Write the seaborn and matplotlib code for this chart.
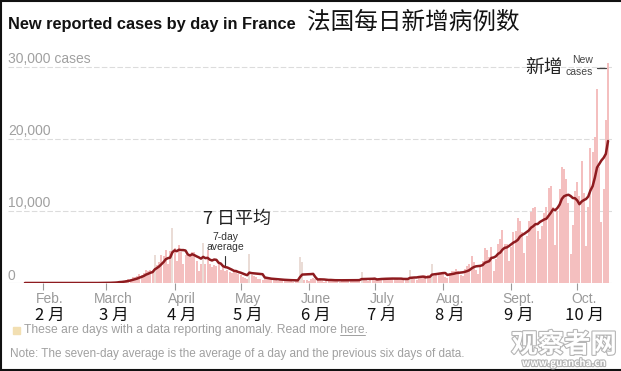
import numpy as np
import pandas as pd
import matplotlib
matplotlib.use('Agg')
from matplotlib import pyplot as plt
from matplotlib import patheffects
from matplotlib.lines import Line2D
import seaborn as sns

# daily new cases (Jan 24 - Oct 15, 2020)
jan = [2, 1, 0, 0, 0, 1, 0, 2]
feb = [0, 0, 0, 0, 0, 0, 0, 5, 0, 1, 0, 0, 0, 0, 1, 0, 0, 0, 0, 0, 0, 0, 0, 0,
       2, 4, 20, 20, 19]
mar = [43, 30, 61, 73, 138, 190, 336, 177, 286, 372, 497, 595, 785, 838, 924,
       1210, 1097, 1404, 1861, 1617, 1847, 1559, 3838, 2446, 2931, 3922, 3809,
       4611, 2599, 4376, 7578]
apr = [4861, 3100, 5233, 4267, 2600, 3912, 3777, 3881, 4286, 4342, 3114, 1613,
       2673, 5497, 2633, 4607, 2641, 2200, 2569, 2383, 2667, 1827, 2183, 1653,
       1773, 1537, 1358, 1500, 1600, 1200]
may = [1100, 900, 700, 600, 4000, 1100, 1000, 900, 600, 500, 450, 800, 700, 600,
       550, 400, 350, 300, 500, 550, 450, 400, 300, 250, 200, 450, 500, 3600,
       2900, 400, 350]
jun = [300, 600, 700, 500, 600, 500, 300, 200, 400, 450, 500, 450, 400, 250, 200,
       400, 450, 500, 450, 400, 300, 250, 400, 500, 1500, 500, 400, 300, 350, 550]
jul = [650, 700, 750, 600, 450, 400, 650, 700, 750, 700, 600, 450, 400, 350, 650,
       750, 1800, 800, 600, 450, 750, 900, 950, 1050, 1100, 800, 2600, 1000, 1200,
       1300, 1400]
aug = [1350, 900, 700, 1400, 1600, 1700, 2000, 1600, 1100, 1000, 1900, 2300, 2600,
       3700, 2900, 1800, 1200, 2200, 3000, 4800, 4600, 3600, 5000, 1600, 3300,
       5400, 6100, 7400, 5400, 5400, 3000]
sep = [4982, 7017, 7157, 8975, 8550, 7071, 4203, 6544, 8577, 9843, 10400, 10561,
       7183, 6158, 7852, 9784, 10593, 13215, 13498, 10569, 5298, 10008, 13072,
       16096, 15797, 14412, 11123, 4070, 8051, 12845]
octo = [13970, 12148, 16972, 12565, 5084, 10489, 18746, 18129, 20339, 26896,
        16101, 8505, 12993, 22591, 30621]

anomaly_days = ['2020-03-23', '2020-03-31', '2020-04-14', '2020-05-05',
                '2020-05-28', '2020-05-29', '2020-06-25', '2020-07-17', '2020-07-27']

month_en = ['Feb.', 'March', 'April', 'May', 'June', 'July', 'Aug.', 'Sept.', 'Oct.']
month_zh = ['2 月', '3 月', '4 月', '5 月', '6 月', '7 月', '8 月', '9 月', '10 月']
month_starts = ['2020-02-01', '2020-03-01', '2020-04-01', '2020-05-01', '2020-06-01',
                '2020-07-01', '2020-08-01', '2020-09-01', '2020-10-01']
y_grid = [10000, 20000, 30000]
y_labels = ['10,000', '20,000', '30,000 cases']

cases = jan + feb + mar + apr + may + jun + jul + aug + sep + octo
dates = pd.date_range('2020-01-24', periods=len(cases), freq='D')
start = dates[0]
df = pd.DataFrame({'date': dates, 'cases': cases})
df['day'] = (df['date'] - start).dt.days
df['kind'] = np.where(df['date'].isin(pd.to_datetime(anomaly_days)), 'anomaly', 'normal')
df['avg'] = df['cases'].rolling(7, min_periods=1).mean()

sns.set_theme(style='white')
plt.rcParams['font.family'] = ['Liberation Sans', 'Noto Sans CJK SC', 'DejaVu Sans']

fig = plt.figure(figsize=(6.21, 3.71), dpi=100)
ax = fig.add_axes([8 / 621, 0.2372, 604 / 621, 0.6016])

# grid lines
for g in y_grid:
    ax.axhline(g, color='#dcdcdc', lw=0.8, ls=(0, (5, 2)), zorder=0)
ax.axhline(0, color='#cfcfcf', lw=0.8, zorder=0)

sns.barplot(data=df, x='day', y='cases', hue='kind',
            palette={'normal': '#f4bfbf', 'anomaly': '#eadcd6'},
            native_scale=True, dodge=False, width=0.88, errorbar=None,
            legend=False, saturation=1, linewidth=0, ax=ax)
sns.lineplot(x=df['day'], y=df['avg'], color='#8e1b1f', lw=1.8, ax=ax, zorder=5)

ax.set_xlim(-7.7, len(cases) + 0.8)
ax.set_ylim(0, 31000)
for s in ax.spines.values():
    s.set_visible(False)
ax.set_xlabel('')
ax.set_ylabel('')
ax.set_yticks([])

tick_days = [(pd.Timestamp(m) - start).days for m in month_starts]
ax.set_xticks(tick_days)
ax.set_xticklabels([])
ax.tick_params(axis='x', bottom=True, length=5, width=0.8, color='#9a9a9a', pad=0)

# y labels sitting above gridlines
ytr = ax.get_yaxis_transform()
for g, lab in zip(y_grid, y_labels):
    ax.text(0, g + 1100, lab, transform=ytr, ha='left', va='center',
            fontsize=10, color='#a0a0a0')
ax.text(0, 1000, '0', transform=ytr, ha='left', va='center', fontsize=10, color='#a0a0a0')

# month labels, english + chinese
xtr = ax.get_xaxis_transform()
for d, en, zh in zip(tick_days, month_en, month_zh):
    ax.text(d + 3.3, -0.07, en, transform=xtr, ha='center', va='center',
            fontsize=10, color='#9a9a9a')
    ax.text(d + 3.3, -0.145, zh, transform=xtr, ha='center', va='center',
            fontsize=12, color='#111111', family=['Noto Sans CJK SC', 'DejaVu Sans'])

# 7-day average annotation
d_avg = (pd.Timestamp('2020-04-24') - start).days
ax.text(d_avg + 5.5, 8900, '7 日平均', ha='center', va='center', fontsize=13,
        color='#222222', family=['Noto Sans CJK SC', 'DejaVu Sans'])
ax.text(d_avg, 5700, '7-day\naverage', ha='center', va='center', fontsize=7.5,
        color='#333333', linespacing=1.0)
ax.plot([d_avg, d_avg], [2300, 3700], color='#333333', lw=0.8)

# new cases annotation
d_last = len(cases) - 1
ax.text(d_last - 29, 30000, '新增', ha='center', va='center', fontsize=13.5,
        color='#222222', family=['Noto Sans CJK SC', 'DejaVu Sans'])
ax.text(d_last - 11.5, 31000, 'New', ha='center', va='center', fontsize=7.5,
        color='#444444', clip_on=False)
ax.text(d_last - 13, 29300, 'cases', ha='center', va='center', fontsize=7.5,
        color='#444444', clip_on=False)
ax.plot([d_last - 5, d_last - 1], [29800, 29800], color='#444444', lw=0.9)

# titles
fig.text(8 / 621, 1 - 24 / 371, 'New reported cases by day in France', ha='left',
         va='center', fontsize=11.8, fontweight='bold', color='#121212')
fig.text(307 / 621, 1 - 22 / 371, '法国每日新增病例数', ha='left', va='center',
         fontsize=17, color='#121212', family=['Noto Sans CJK SC', 'DejaVu Sans'])

# legend row and note
fig.patches.append(plt.Rectangle((13 / 621, 1 - 334 / 371), 7 / 621, 7 / 371,
                                 transform=fig.transFigure, color='#f2dfb2'))
leg = fig.text(24 / 621, 1 - 330 / 371,
               'These are days with a data reporting anomaly. Read more here.',
               ha='left', va='center', fontsize=8.7, color='#a0a0a0')
fig.text(10 / 621, 1 - 354 / 371,
         'Note: The seven-day average is the average of a day and the previous six days of data.',
         ha='left', va='center', fontsize=8.5, color='#a0a0a0')

fig.canvas.draw()
r = fig.canvas.get_renderer()
bb = leg.get_window_extent(r)
tmp1 = fig.text(0, 0, 'here.', fontsize=8.7)
tmp2 = fig.text(0, 0, '.', fontsize=8.7)
w1 = tmp1.get_window_extent(r).width
w2 = tmp2.get_window_extent(r).width
tmp1.remove()
tmp2.remove()
ux0 = (bb.x1 - w1) / fig.bbox.width
ux1 = (bb.x1 - w2) / fig.bbox.width
uy = (bb.y0 + 1) / fig.bbox.height
fig.add_artist(Line2D([ux0, ux1], [uy, uy], transform=fig.transFigure,
                      color='#a0a0a0', lw=0.7))

# watermark
for txt, yy, fs in [('观察者网', 345, 19), ('www.guancha.cn', 363, 7)]:
    fig.text(564 / 621, 1 - yy / 371, txt, ha='center', va='center', fontsize=fs,
             color='white', fontweight='bold', family=['Noto Sans CJK SC', 'DejaVu Sans'],
             path_effects=[patheffects.withStroke(linewidth=1.6, foreground='#b5b5b5')])

# screenshot border
for xs, ys in [([0.0015, 0.0015], [0, 1]), ([0, 1], [0.003, 0.003]), ([0, 1], [0.998, 0.998])]:
    fig.add_artist(Line2D(xs, ys, transform=fig.transFigure, color='#111111', lw=1.5))

fig.savefig('out.png', dpi=100)
